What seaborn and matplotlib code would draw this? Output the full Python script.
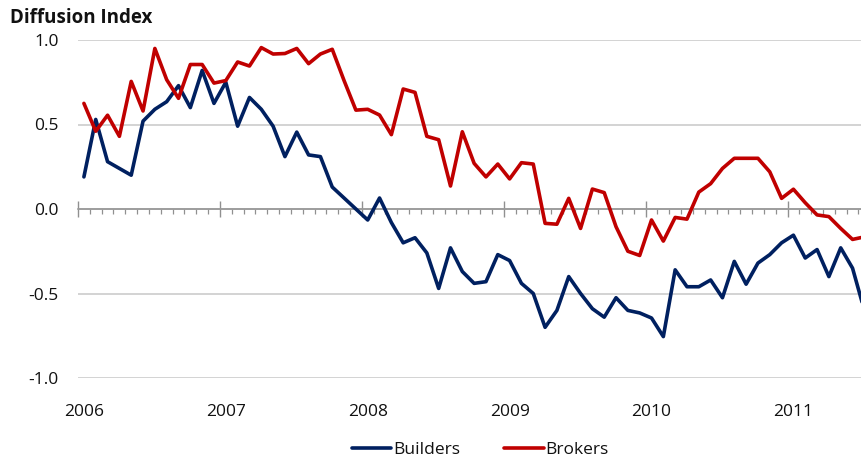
import numpy as np
import pandas as pd
import matplotlib
matplotlib.use("Agg")
import matplotlib.pyplot as plt
from matplotlib.ticker import MultipleLocator, FixedLocator
import seaborn as sns

# ─── DATA (monthly, Jan 2006 .. Jul 2011) ─────────────────
builders = [0.19, 0.53, 0.28, 0.24, 0.20, 0.52, 0.59, 0.635, 0.73, 0.60, 0.82,
            0.625, 0.75, 0.49, 0.66, 0.59, 0.49, 0.31, 0.455, 0.32, 0.31, 0.13,
            0.065, 0.00, -0.065, 0.065, -0.08, -0.20, -0.17, -0.26, -0.47, -0.23, -0.37,
            -0.44, -0.43, -0.27, -0.305, -0.44, -0.50, -0.70, -0.60, -0.40, -0.50, -0.59,
            -0.64, -0.525, -0.60, -0.615, -0.645, -0.755, -0.36, -0.46, -0.46, -0.42, -0.525,
            -0.31, -0.445, -0.32, -0.27, -0.20, -0.155, -0.29, -0.24, -0.40, -0.23, -0.35, -0.60]

brokers = [0.625, 0.46, 0.555, 0.43, 0.755, 0.58, 0.95, 0.765, 0.655, 0.855, 0.855,
           0.745, 0.76, 0.87, 0.846, 0.955, 0.917, 0.92, 0.95, 0.86, 0.917, 0.945,
           0.76, 0.585, 0.59, 0.556, 0.44, 0.71, 0.69, 0.43, 0.41, 0.136, 0.457,
           0.27, 0.19, 0.266, 0.178, 0.274, 0.266, -0.085, -0.09, 0.063, -0.115, 0.118,
           0.097, -0.105, -0.25, -0.275, -0.065, -0.19, -0.05, -0.06, 0.10, 0.15, 0.24,
           0.30, 0.30, 0.30, 0.22, 0.063, 0.117, 0.037, -0.035, -0.045, -0.115, -0.18, -0.165]

years = ['2006', '2007', '2008', '2009', '2010', '2011']
y_ticks = [-1.0, -0.5, 0.0, 0.5, 1.0]

BLUE = '#002060'
RED = '#C00000'

# month index, points sit in the middle of each month slot
month_pos = np.arange(len(builders)) + 0.5
df = pd.DataFrame({
    'month': np.concatenate([month_pos, month_pos]),
    'value': builders + brokers,
    'series': ['Builders'] * len(builders) + ['Brokers'] * len(brokers),
})

# ─── PLOT ─────────────────────────────────────────────────
sns.set_style('white')
plt.rcParams['font.family'] = ['Open Sans', 'DejaVu Sans']

fig = plt.figure(figsize=(8.62, 4.62), dpi=100)
ax = fig.add_axes([78 / 862, 84 / 462, 784 / 862, 338 / 462])

sns.lineplot(data=df, x='month', y='value', hue='series',
             palette={'Builders': BLUE, 'Brokers': RED},
             linewidth=2.6, ax=ax, legend=True, zorder=3)

ax.set_xlim(0, 66.3)
ax.set_ylim(-1.0, 1.0)
ax.set_xlabel('')
ax.set_ylabel('')

# y axis: gridlines only, no spine
ax.set_yticks(y_ticks)
ax.set_yticklabels(['%.1f' % v for v in y_ticks])
ax.tick_params(axis='y', length=0, pad=14, labelsize=12.5, labelcolor='#111111')
ax.yaxis.grid(True, color='#c8c8c8', linewidth=1.1)
ax.set_axisbelow(True)
for side in ['left', 'right', 'top']:
    ax.spines[side].set_visible(False)

# x axis line at zero with month ticks
ax.spines['bottom'].set_position(('data', 0))
ax.spines['bottom'].set_color('#909090')
ax.spines['bottom'].set_linewidth(1.1)
ax.spines['bottom'].set_zorder(2)
ax.xaxis.set_major_locator(MultipleLocator(12))
ax.xaxis.set_minor_locator(MultipleLocator(1))
ax.tick_params(axis='x', which='both', bottom=True)
ax.tick_params(axis='x', which='major', direction='inout', length=11,
               width=1.0, color='#909090', labelbottom=False)
ax.tick_params(axis='x', which='minor', direction='out', length=3.5,
               width=0.9, color='#909090')

# year labels along the bottom edge
sec = ax.secondary_xaxis('bottom')
sec.xaxis.set_major_locator(FixedLocator([12 * k + 0.5 for k in range(len(years))]))
sec.set_xticklabels(years)
sec.xaxis.set_minor_locator(FixedLocator([]))
sec.tick_params(axis='x', length=0, pad=19, labelsize=12.5, labelcolor='#111111')
sec.spines['bottom'].set_visible(False)

fig.text(10 / 862, 1 - 18 / 462, 'Diffusion Index', fontsize=13.5,
         fontweight='bold', color='#111111', va='center', ha='left')

# legend at the bottom, builders first
handles, labels = ax.get_legend_handles_labels()
ax.get_legend().remove()
fig.legend(handles, labels, loc='center', bbox_to_anchor=(480 / 862, 1 - 450 / 462),
           ncol=2, frameon=False, fontsize=12.5, handlelength=2.3,
           handletextpad=0.1, columnspacing=2.5, labelcolor='#111111')

plt.savefig('out.png', dpi=100)
plt.close()
